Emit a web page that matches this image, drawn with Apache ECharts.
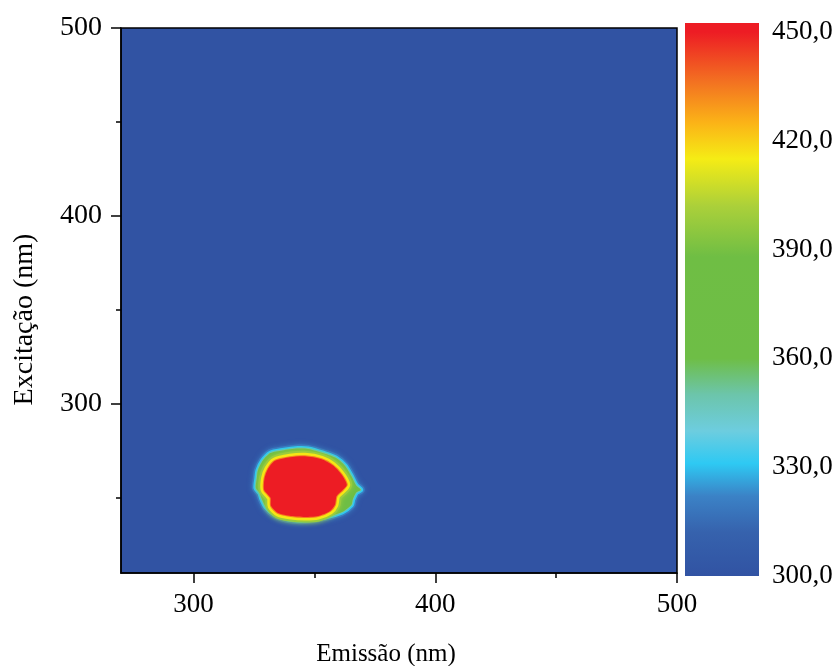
<!DOCTYPE html>
<html>
<head>
<meta charset="utf-8">
<title>Excitação x Emissão</title>
<script src="https://cdn.jsdelivr.net/npm/echarts@6/dist/echarts.min.js"></script>
<style>
  html, body { margin: 0; padding: 0; background: #fff; }
  #eem { width: 840px; height: 666px; }
</style>
</head>
<body>
<div id="eem"></div>
<script>
// eixos
var emRange = [270, 500];
var exRange = [210, 500];
var emLabels = [300, 400, 500];
var emMinor = [350, 450];
var exLabels = [300, 400, 500];
var exMinor = [250, 350, 450];
var scaleRange = [300, 450];
var barRange = [300, 452.5];   // a barra passa um pouco de 450 no topo

// contorno externo (limite da zona verde, ~360)
var outerLevel = 360;
var outerEm = [325.8, 326.2, 326.6, 328.6, 331.8, 336.8, 343.2, 347.4, 354.0, 358.8, 362.7, 365.3, 367.3,
               369.2, 367.3, 365.9, 365.3, 361.5, 354.0, 346.1, 339.1, 333.5, 329.9, 328.3, 327.4];
var outerEx = [255.2, 260.5, 264.4, 269.7, 273.8, 275.2, 276.2, 276.0, 273.6, 271.3, 267.0, 261.5, 256.6,
               254.3, 252.8, 249.2, 246.2, 242.5, 239.7, 238.2, 238.7, 241.3, 245.2, 249.2, 252.6];

// nucleo (saturado, >= ~445)
var coreLevel = 445;
var coreEm = [329.2, 329.4, 330.8, 333.6, 339.9, 346.1, 353.0, 357.7, 361.3, 363.4, 361.8, 359.2, 358.5,
              356.5, 351.5, 346.1, 340.3, 335.0, 332.1, 331.9, 330.8];
var coreEx = [254.3, 260.5, 265.4, 269.6, 271.6, 272.1, 270.5, 267.2, 262.3, 257.0, 254.3, 251.0, 246.3,
              243.0, 240.3, 239.8, 240.3, 241.9, 245.6, 249.9, 251.7];

var contours = [
    {level: outerLevel, em: outerEm, ex: outerEx},
    {level: coreLevel, em: coreEm, ex: coreEx}
];

// paleta (tipo "rainbow" do Origin)
var palette = [
    [300, '#3153a3'], [312, '#3662ad'], [322, '#3b82c6'], [331, '#2ec9f3'], [340, '#6dcddf'],
    [350, '#6cc5ab'], [360, '#6ebe46'], [388, '#6fbe44'], [402, '#abd03a'], [415, '#f5ec15'],
    [425, '#fbb317'], [436, '#f37321'], [450, '#ed1c24']
];

function colorAt(v) {
    if (v <= palette[0][0]) return palette[0][1];
    for (var i = 1; i < palette.length; i++) {
        if (v <= palette[i][0]) {
            var t = (v - palette[i - 1][0]) / (palette[i][0] - palette[i - 1][0]);
            return echarts.color.lerp(t, [palette[i - 1][1], palette[i][1]]);
        }
    }
    return palette[palette.length - 1][1];
}

var fontFamily = '"Liberation Serif", "Times New Roman", serif';

function renderContour(params, api) {
    var c = contours[params.dataIndex];
    var pts = c.em.map(function (e, i) { return api.coord([e, c.ex[i]]); });
    var bands;
    if (c.level < 400) {
        // azul claro -> ciano -> verde-agua -> verde
        bands = [
            {w: 8, color: colorAt(320), blur: 5},
            {w: 5, color: colorAt(331)},
            {w: 2, color: colorAt(348)}
        ];
    } else {
        // verde-amarelo -> amarelo -> laranja -> vermelho
        bands = [
            {w: 11, color: colorAt(398), blur: 5},
            {w: 7, color: colorAt(416)},
            {w: 2, color: colorAt(434)}
        ];
    }
    var children = bands.map(function (b) {
        return {
            type: 'polygon',
            shape: {points: pts, smooth: 0.25},
            style: {
                fill: 'none', stroke: b.color, lineWidth: b.w, lineJoin: 'round',
                shadowBlur: b.blur || 0, shadowColor: b.color
            }
        };
    });
    children.push({
        type: 'polygon',
        shape: {points: pts, smooth: 0.25},
        style: {fill: colorAt(c.level < 400 ? 370 : 450)}
    });
    return {type: 'group', children: children};
}

function renderBar(params, api) {
    var p0 = api.coord([0, barRange[0]]);
    var p1 = api.coord([1, barRange[1]]);
    var stops = palette.map(function (p) {
        return {offset: (p[0] - barRange[0]) / (barRange[1] - barRange[0]), color: p[1]};
    });
    stops.push({offset: 1, color: palette[palette.length - 1][1]});
    return {
        type: 'rect',
        shape: {x: p0[0], y: p1[1], width: p1[0] - p0[0], height: p0[1] - p1[1]},
        style: {fill: new echarts.graphic.LinearGradient(0, 1, 0, 0, stops)}
    };
}

var chart = echarts.init(document.getElementById('eem'));
var labelStyle = {color: '#000', fontFamily: fontFamily, fontSize: 27};

var option = {
    animation: false,
    grid: [
        {left: 121, top: 28, width: 556, height: 545, show: true, outerBoundsMode: 'none',
         backgroundColor: colorAt(scaleRange[0]), borderColor: '#000', borderWidth: 1.5},
        {left: 685, top: 32, width: 74, height: 544, outerBoundsMode: 'none'}
    ],
    xAxis: [
        {
            type: 'value', gridIndex: 0, position: 'bottom', min: emRange[0], max: emRange[1],
            name: 'Emissão (nm)', nameLocation: 'middle', nameGap: 69,
            nameTextStyle: {color: '#000', fontFamily: fontFamily, fontSize: 25, padding: [0, 26, 0, 0]},
            axisLine: {show: true, lineStyle: {color: '#000', width: 1.5}},
            axisTick: {show: true, length: 10, customValues: emLabels, lineStyle: {color: '#000', width: 1.5}},
            axisLabel: Object.assign({margin: 18, customValues: emLabels}, labelStyle),
            splitLine: {show: false}
        },
        {
            type: 'value', gridIndex: 0, position: 'bottom', min: emRange[0], max: emRange[1],
            axisLine: {show: false},
            axisTick: {show: true, length: 5, customValues: emMinor, lineStyle: {color: '#000', width: 1.5}},
            axisLabel: {show: false},
            splitLine: {show: false}
        },
        {
            type: 'value', gridIndex: 1, min: 0, max: 1, show: false
        }
    ],
    yAxis: [
        {
            type: 'value', gridIndex: 0, position: 'left', min: exRange[0], max: exRange[1],
            name: 'Excitação (nm)', nameLocation: 'middle', nameGap: 82,
            nameTextStyle: {color: '#000', fontFamily: fontFamily, fontSize: 28, padding: [0, 38, 0, 0]},
            axisLine: {show: true, lineStyle: {color: '#000', width: 1.5}},
            axisTick: {show: true, length: 10, customValues: exLabels, lineStyle: {color: '#000', width: 1.5}},
            axisLabel: Object.assign({}, labelStyle, {margin: 19, fontSize: 28, customValues: exLabels}),
            splitLine: {show: false}
        },
        {
            type: 'value', gridIndex: 0, position: 'left', min: exRange[0], max: exRange[1],
            axisLine: {show: false},
            axisTick: {show: true, length: 5, customValues: exMinor, lineStyle: {color: '#000', width: 1.5}},
            axisLabel: {show: false},
            splitLine: {show: false}
        },
        {
            type: 'value', gridIndex: 1, position: 'right', min: scaleRange[0], max: scaleRange[1], interval: 30,
            axisLine: {show: false},
            axisTick: {show: false},
            splitLine: {show: false},
            axisLabel: Object.assign({
                margin: 13,
                formatter: function (v) { return v.toFixed(1).replace('.', ','); }
            }, labelStyle)
        }
    ],
    series: [
        {
            type: 'custom',
            xAxisIndex: 0, yAxisIndex: 0,
            clip: true,
            renderItem: renderContour,
            data: contours.map(function (c) { return [c.em[0], c.ex[0], c.level]; })
        },
        {
            type: 'custom',
            xAxisIndex: 2, yAxisIndex: 2,
            clip: false,
            renderItem: renderBar,
            data: [[0, barRange[0]]]
        }
    ]
};
chart.setOption(option);
</script>
</body>
</html>
